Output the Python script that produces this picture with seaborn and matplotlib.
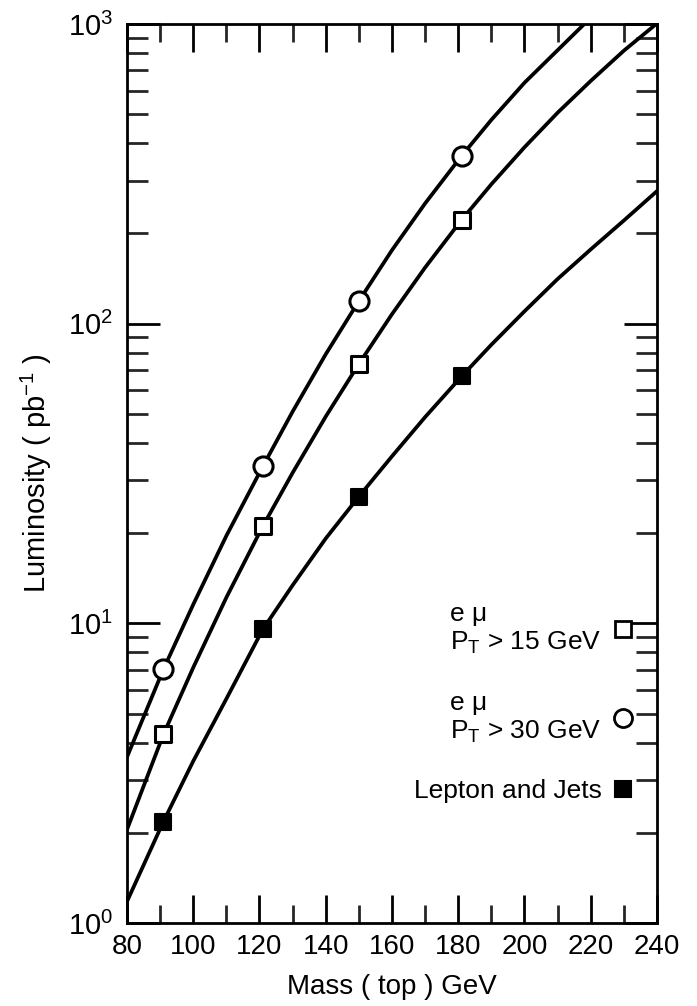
import numpy as np
import pandas as pd
import matplotlib
matplotlib.use("Agg")
import matplotlib.pyplot as plt
from matplotlib.ticker import MultipleLocator, LogLocator, LogFormatterMathtext, NullFormatter
from matplotlib.lines import Line2D
import seaborn as sns

# ---------------- data ----------------
# measured points (marker positions)
pt_mass = [91, 121, 150, 181]
emu30_pts = [7.03, 33.4, 119, 363]        # open circles  (e mu, PT > 30 GeV)
emu15_pts = [4.26, 21.1, 73.4, 222]       # open squares  (e mu, PT > 15 GeV)
lj_pts = [2.18, 9.55, 26.5, 66.7]         # filled squares (Lepton and Jets)

# curve knots
emu30_curve_x = [80, 91, 100, 110, 121, 130, 140, 150, 160, 170, 181, 190, 200, 210, 220]
emu30_curve_y = [3.58, 7.03, 11.56, 19.6, 33.4, 50.9, 79.1, 119, 176, 252, 363, 479, 637, 818, 1050]

emu15_curve_x = [80, 91, 100, 110, 121, 130, 140, 150, 160, 170, 181, 190, 200, 210, 220, 230, 240]
emu15_curve_y = [2.05, 4.26, 7.12, 12.2, 21.1, 31.8, 49.0, 73.4, 107.6, 154, 222, 292, 388, 506, 646, 815, 1005]

lj_curve_x = [80, 91, 100, 110, 121, 130, 140, 150, 160, 170, 181, 190, 200, 210, 220, 230, 240]
lj_curve_y = [1.18, 2.18, 3.47, 5.6, 9.55, 13.4, 19.2, 26.5, 36.1, 48.8, 66.7, 85.1, 110, 141, 177, 221, 277]

legend_labels = ["e \u03bc\n$\\mathregular{P_T}$ > 15 GeV",
                 "e \u03bc\n$\\mathregular{P_T}$ > 30 GeV",
                 "Lepton and Jets"]
x_label = "Mass ( top ) GeV"
y_label = "Luminosity ( pb$^{\\mathregular{-1}}$ )"

# ---------------- style ----------------
sns.set_theme(style="ticks")
plt.rcParams['font.family'] = ['Liberation Sans', 'DejaVu Sans']
plt.rcParams['mathtext.fontset'] = 'custom'
plt.rcParams['mathtext.rm'] = 'Liberation Sans'
plt.rcParams['mathtext.it'] = 'Liberation Sans'

fig = plt.figure(figsize=(6.97, 10.06), dpi=100)
ax = fig.add_axes([0.1822, 0.0825, 0.7604, 0.8936])

lw = 2.7
curves = [(emu30_curve_x, emu30_curve_y), (emu15_curve_x, emu15_curve_y), (lj_curve_x, lj_curve_y)]
for cx, cy in curves:
    df = pd.DataFrame({"x": cx, "y": cy})
    sns.lineplot(data=df, x="x", y="y", ax=ax, color="black", linewidth=lw,
                 sort=False, estimator=None, legend=False, zorder=2)

marker_specs = [
    (emu30_pts, dict(marker="o", s=190, facecolor="white", edgecolor="black", linewidth=2.2)),
    (emu15_pts, dict(marker="s", s=135, facecolor="white", edgecolor="black", linewidth=2.2)),
    (lj_pts, dict(marker="s", s=145, facecolor="black", edgecolor="black", linewidth=1.5)),
]
for vals, kw in marker_specs:
    df = pd.DataFrame({"x": pt_mass, "y": vals})
    sns.scatterplot(data=df, x="x", y="y", ax=ax, legend=False, zorder=3, **kw)

ax.set_yscale("log")
ax.set_xlim(80, 240)
ax.set_ylim(1, 1000)

ax.xaxis.set_major_locator(MultipleLocator(20))
ax.xaxis.set_minor_locator(MultipleLocator(10))
ax.yaxis.set_major_locator(LogLocator(base=10))
ax.yaxis.set_minor_locator(LogLocator(base=10, subs=np.arange(2, 10)))
ax.yaxis.set_major_formatter(LogFormatterMathtext())
ax.yaxis.set_minor_formatter(NullFormatter())

for s in ax.spines.values():
    s.set_linewidth(2.0)
    s.set_color("black")
    s.set_visible(True)

ax.tick_params(axis="x", which="major", direction="in", length=20, width=2.0,
               top=True, bottom=True, labelsize=20, pad=8, colors="black")
ax.tick_params(axis="x", which="minor", direction="in", length=13, width=2.0,
               top=True, bottom=True)
ax.tick_params(axis="y", which="major", direction="in", length=24, width=2.0,
               left=True, right=True, labelsize=21, pad=10, colors="black")
ax.tick_params(axis="y", which="minor", direction="in", length=15, width=2.0,
               left=True, right=True)

ax.set_xlabel(x_label, fontsize=20, color="black", labelpad=10)
ax.set_ylabel(y_label, fontsize=21, color="black", labelpad=10)
ax.grid(False)

handles = [
    Line2D([], [], linestyle="none", marker="s", markersize=11, markerfacecolor="white",
           markeredgecolor="black", markeredgewidth=2.0),
    Line2D([], [], linestyle="none", marker="o", markersize=13, markerfacecolor="white",
           markeredgecolor="black", markeredgewidth=2.0),
    Line2D([], [], linestyle="none", marker="s", markersize=11, markerfacecolor="black",
           markeredgecolor="black", markeredgewidth=1.5),
]
leg = ax.legend(handles, legend_labels, loc="upper right", bbox_to_anchor=(0.96, 0.357),
                frameon=False, markerfirst=False, handlelength=1.0, handletextpad=0.3,
                labelspacing=1.3, borderpad=0, borderaxespad=0, fontsize=19)
for t in leg.get_texts():
    t.set_linespacing(1.2)
    t.set_color("black")

fig.savefig("out.png", dpi=100, facecolor="white")
